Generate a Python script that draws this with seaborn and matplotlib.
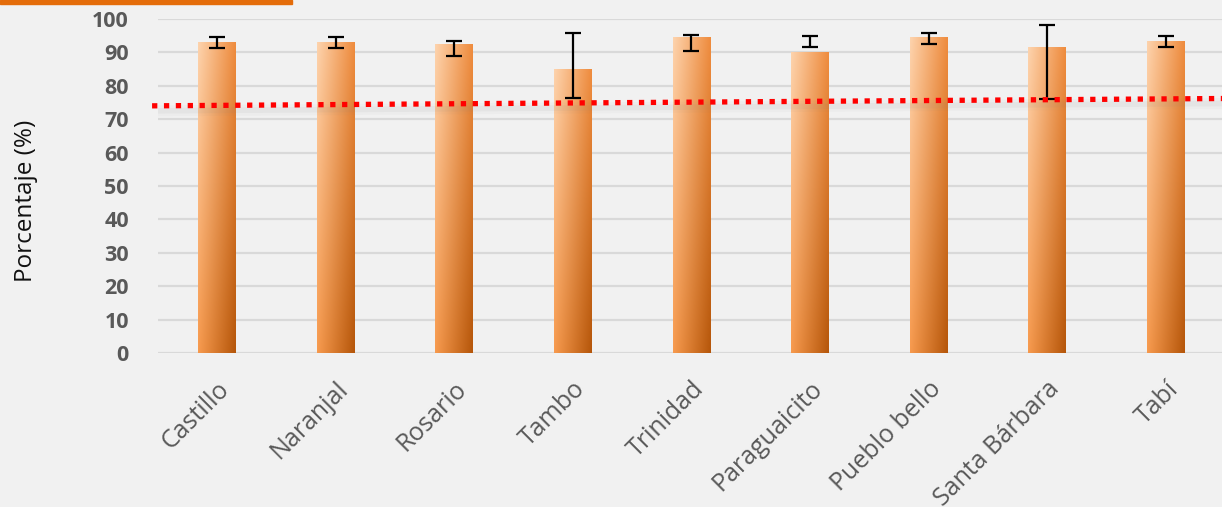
import matplotlib
matplotlib.use("Agg")
from matplotlib import pyplot as plt
from matplotlib import transforms
from matplotlib.patches import Rectangle
import numpy as np
import pandas as pd
import seaborn as sns

# data
sites = ['Castillo', 'Naranjal', 'Rosario', 'Tambo', 'Trinidad', 'Paraguaicito',
         'Pueblo bello', 'Santa Bárbara', 'Tabí']
pct = [93.1, 93.1, 92.5, 85.0, 94.6, 90.1, 94.6, 91.6, 93.4]
err_lo = [91.2, 91.3, 88.8, 76.3, 90.4, 91.6, 92.4, 76.0, 91.7]
err_hi = [94.7, 94.5, 93.5, 95.8, 95.3, 95.0, 95.8, 98.2, 95.0]
# red dotted reference line, value at left and right edge
ref_line = [74.0, 76.2]
yticks = list(range(0, 101, 10))

df = pd.DataFrame({'site': sites, 'pct': pct})

sns.set_style('white')
plt.rcParams['font.family'] = ['Open Sans', 'DejaVu Sans']

fig = plt.figure(figsize=(12.22, 5.07), dpi=100, facecolor='#f1f1f1')
ax = fig.add_axes([158/1222, 154/507, 1067/1222, 334/507])
ax.set_facecolor('none')

sns.barplot(data=df, x='site', y='pct', color='#f79646', width=0.32,
            errorbar=None, ax=ax, zorder=2)

# gradient fill for the bars (light left/top -> dark right/bottom)
tl = np.array([253, 211, 173]) / 255
tr = np.array([239, 140, 62]) / 255
bl = np.array([247, 154, 78]) / 255
br = np.array([181, 86, 10]) / 255
u = np.linspace(0, 1, 60)[None, :, None]
v = np.linspace(0, 1, 200)[:, None, None]
grad = (1 - v) * ((1 - u) * tl + u * tr) + v * ((1 - u) * bl + u * br)
for p in ax.patches:
    p.set_edgecolor('none')
    im = ax.imshow(grad, extent=[p.get_x(), p.get_x() + p.get_width(), 0, p.get_height()],
                   aspect='auto', zorder=2.5, interpolation='bilinear')
    im.set_clip_path(p)

# error bars
mid = (np.array(err_lo) + np.array(err_hi)) / 2
half = (np.array(err_hi) - np.array(err_lo)) / 2
ax.errorbar(np.arange(len(sites)), mid, yerr=half, fmt='none', ecolor='black',
            elinewidth=1.6, capsize=6, capthick=1.6, zorder=4)

# dotted red line with soft shadow
xs = [-0.55, 8.5]
for dy, w, a in [(-5, 4, 0.07), (-5, 8, 0.04)]:
    off = transforms.offset_copy(ax.transData, fig=fig, y=dy, units='dots')
    ax.plot(xs, ref_line, color='gray', lw=w, alpha=a, transform=off,
            zorder=4.5, solid_capstyle='butt')
ax.plot(xs, ref_line, color='#ff0000', lw=3.8, linestyle=(0, (1, 1.25)),
        dash_capstyle='butt', zorder=5, clip_on=False)

ax.set_xlim(-0.5, 8.5)
ax.set_ylim(0, 100)
ax.set_yticks(yticks)
ax.yaxis.grid(True, color='#d9d9d9', lw=1.6, zorder=0)
ax.set_axisbelow(True)
for s in ax.spines.values():
    s.set_visible(False)
ax.tick_params(axis='both', length=0)
ax.tick_params(axis='y', pad=21)
ax.tick_params(axis='x', pad=17)
for t in ax.get_yticklabels():
    t.set_fontsize(15.5)
    t.set_fontweight('bold')
    t.set_color('#595959')
ax.set_xticks(range(len(sites)))
ax.set_xticklabels(sites, rotation=45, ha='right', rotation_mode='anchor',
                   fontsize=18, color='#595959')
ax.set_xlabel('')
ax.set_ylabel('Porcentaje (%)', fontsize=17.5, color='#111111')
ax.yaxis.set_label_coords(-0.112, 0.455)

# orange strip at the top-left corner
fig.patches.append(Rectangle((0, 1 - 4/507), 292/1222, 4/507, transform=fig.transFigure,
                             color='#e46c0a', zorder=10))

fig.savefig('out.png', dpi=100, facecolor=fig.get_facecolor())
